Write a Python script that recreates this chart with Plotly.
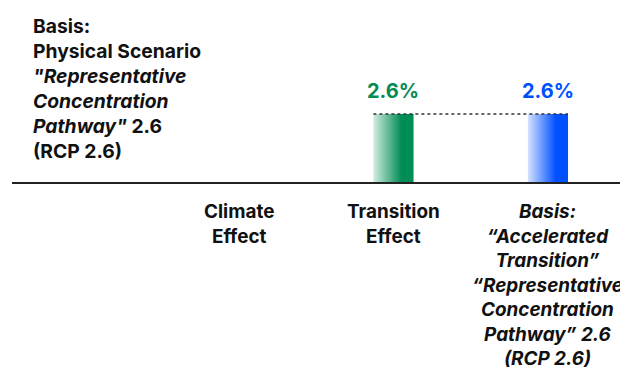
import plotly.graph_objects as go

categories = ["Climate<br>Effect", "Transition<br>Effect",
              "<i>Basis:<br>\u201cAccelerated<br>Transition\u201d<br>\u201cRepresentative<br>Concentration<br>Pathway\u201d 2.6<br>(RCP 2.6)</i>"]
positions = [1, 2, 3]
values = [0, 2.6, 2.6]
value_labels = ["", "2.6%", "2.6%"]
bar_colors = [None, ("#d2ede1", "#008c55"), ("#d6e3ff", "#0050ff")]
basis_text = ("<b>Basis:<br>Physical Scenario<br><i>\"Representative<br>Concentration<br>"
              "Pathway\"</i> 2.6<br>(RCP 2.6)</b>")

FONT = "Inter"
half = 0.13

fig = go.Figure()

# gradient bars drawn as filled areas
for pos, val, cols in zip(positions, values, bar_colors):
    if cols is None or val == 0:
        continue
    fig.add_trace(go.Scatter(
        x=[pos - half, pos + half], y=[val, val],
        fill="tozeroy", mode="none",
        fillgradient=dict(type="horizontal",
                          colorscale=[[0, cols[0]], [0.7, cols[1]], [1, cols[1]]]),
        hoverinfo="skip", showlegend=False,
    ))

# dotted connector
fig.add_trace(go.Scatter(
    x=[positions[1] - half, positions[2] + half], y=[values[1], values[2]],
    mode="lines", line=dict(color="#333", width=1.5, dash="dot"),
    hoverinfo="skip", showlegend=False,
))

for pos, val, lab, cols in zip(positions, values, value_labels, bar_colors):
    if lab:
        fig.add_annotation(x=pos, y=val, text=f"<b>{lab}</b>", showarrow=False,
                           yanchor="bottom", yshift=9,
                           font=dict(family=FONT, size=20, color=cols[1]))

for pos, cat in zip(positions, categories):
    fig.add_annotation(x=pos, y=0, text=f"<b>{cat}</b>", showarrow=False,
                       yanchor="top", yshift=-15, align="center",
                       font=dict(family=FONT, size=18.9, color="#111"))

fig.add_annotation(xref="paper", yref="paper", x=23 / 628, y=1 - 4 / 371,
                   text=basis_text, showarrow=False, xanchor="left", yanchor="top",
                   align="left", font=dict(family=FONT, size=19.3, color="#111"))

fig.add_hline(y=0, line=dict(color="#222", width=2))

fig.update_layout(
    width=628, height=371,
    margin=dict(l=0, r=0, t=0, b=0),
    paper_bgcolor="white", plot_bgcolor="white",
    xaxis=dict(domain=[4 / 628, 1], range=[-0.469, 3.57], visible=False),
    yaxis=dict(range=[-7.385, 6.594], visible=False),
)

fig.write_html("out.html")
